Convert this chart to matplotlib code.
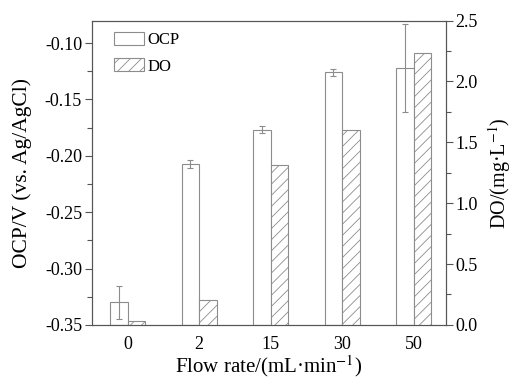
import numpy as np
import matplotlib
matplotlib.use("Agg")
import matplotlib.pyplot as plt
from matplotlib.ticker import MultipleLocator

plt.rcParams["font.family"] = ["Liberation Serif", "DejaVu Serif"]
plt.rcParams["mathtext.fontset"] = "stix"
plt.rcParams["axes.unicode_minus"] = False
plt.rcParams["hatch.color"] = "#999999"
plt.rcParams["hatch.linewidth"] = 0.6

flow_rates = ["0", "2", "15", "30", "50"]
ocp = [-0.330, -0.207, -0.177, -0.126, -0.1225]
ocp_err = [0.0145, 0.0037, 0.003, 0.003, 0.039]
do = [0.035, 0.206, 1.31, 1.60, 2.23]

EDGE = "#8c8c8c"
AXC = "#555555"
BASE = -0.35
w = 0.245
x = np.arange(len(flow_rates))

fig, ax = plt.subplots(figsize=(5.13, 3.80), dpi=100)
fig.subplots_adjust(left=0.179, right=0.869, top=0.946, bottom=0.145)
ax2 = ax.twinx()

ax.bar(x - w / 2, np.array(ocp) - BASE, w, bottom=BASE, facecolor="white",
       edgecolor=EDGE, linewidth=0.8, label="OCP", zorder=2)
ax.errorbar(x - w / 2, ocp, yerr=ocp_err, fmt="none", ecolor=EDGE,
            elinewidth=0.8, capsize=2.5, capthick=0.8, zorder=3)
ax2.bar(x + w / 2, do, w, facecolor="white", edgecolor=EDGE, hatch="///",
        linewidth=0.8, label="DO", zorder=2)

ax.set_xlim(-0.5, 4.45)
ax.set_ylim(-0.35, -0.08)
ax2.set_ylim(0, 2.5)
ax.set_xticks(x)
ax.set_xticklabels(flow_rates)
ax.tick_params(axis="x", length=0, labelsize=13, pad=8)
ax.yaxis.set_major_locator(MultipleLocator(0.05))
ax.yaxis.set_minor_locator(MultipleLocator(0.025))
ax.yaxis.set_major_formatter(plt.FormatStrFormatter("%.2f"))
ax2.yaxis.set_major_locator(MultipleLocator(0.5))
ax2.yaxis.set_minor_locator(MultipleLocator(0.25))
ax2.yaxis.set_major_formatter(plt.FormatStrFormatter("%.1f"))
for a in (ax, ax2):
    a.tick_params(axis="y", which="major", length=5, width=0.8, labelsize=13,
                  color=AXC, pad=2)
    a.tick_params(axis="y", which="minor", length=3.5, width=0.8, color=AXC)
    for s in a.spines.values():
        s.set_color(AXC)
        s.set_linewidth(0.8)

ax.set_xlabel("Flow rate/(mL·min$^{-1}$)", fontsize=15, labelpad=0)
ax.set_ylabel("OCP/V (vs. Ag/AgCl)", fontsize=15.5, labelpad=9)
ax2.set_ylabel("DO/(mg·L$^{-1}$)", fontsize=14.5, labelpad=6)

h1, l1 = ax.get_legend_handles_labels()
h2, l2 = ax2.get_legend_handles_labels()
ax2.legend(h1 + h2, l1 + l2, loc="upper left", frameon=False, fontsize=12,
           handlelength=1.8, handleheight=0.8, labelspacing=0.6,
           handletextpad=0.2, borderaxespad=0.3, bbox_to_anchor=(0.03, 1.0))

fig.savefig("out.png", dpi=100)
